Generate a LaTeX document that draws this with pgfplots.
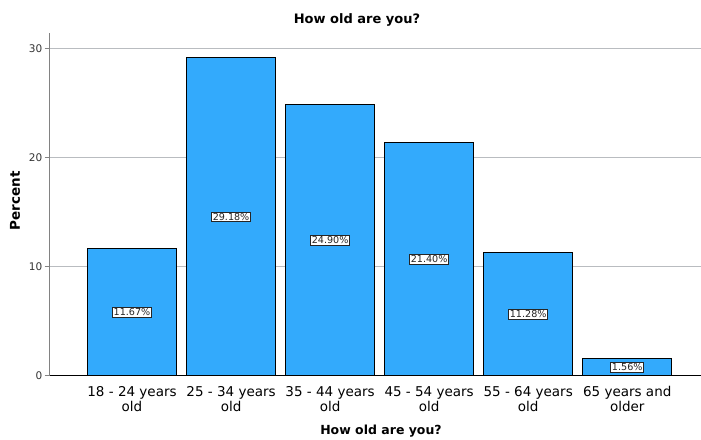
\documentclass[border=0pt]{standalone}
\usepackage{fontspec}
\setmainfont{DejaVu Sans}
\usepackage{pgfplots}
\pgfplotsset{compat=1.18}
\definecolor{barblue}{RGB}{51,170,252}
\definecolor{gridgray}{RGB}{185,188,192}
\definecolor{axgray}{RGB}{130,130,130}
\newcommand\hs{\rule{0pt}{11pt}}
\begin{document}
\begin{tikzpicture}[x=1pt,y=1pt]
\useasboundingbox (0,0) rectangle (701,439);
\begin{axis}[
  at={(50,58)}, anchor=south west,
  scale only axis, width=651pt, height=343pt,
  xmin=-0.833, xmax=5.74, ymin=0, ymax=31.47,
  axis x line*=bottom, axis y line*=left,
  x axis line style={black, line width=0.8pt},
  y axis line style={axgray, line width=1pt},
  ytick={0,10,20,30},
  ytick style={axgray, line width=0.8pt},
  ymajorgrids, major grid style={gridgray, line width=0.9pt},
  tick align=outside, major tick length=5pt,
  xtick={0,1,2,3,4,5}, xtick style={draw=none},
  xticklabels={\hs 18 - 24 years\\old, \hs 25 - 34 years\\old, \hs 35 - 44 years\\old, \hs 45 - 54 years\\old, \hs 55 - 64 years\\old, \hs 65 years and\\older},
  xticklabel style={align=center, anchor=north, font=\fontsize{13.5}{12}\selectfont, text=black, inner sep=0pt, yshift=-5pt},
  yticklabel style={font=\fontsize{10.5}{10}\selectfont, text=black!80, inner sep=2pt},
  /pgf/number format/assume math mode=true,
  clip=false,
]
\addplot[ybar, bar width=89pt, fill=barblue, draw=black, line width=0.8pt,
  visualization depends on={y \as \rawy},
  nodes near coords={\pgfmathprintnumber[fixed,fixed zerofill,precision=2]{\pgfplotspointmeta}\%},
  every node near coord/.append style={anchor=center, shift={(axis direction cs:0,-\rawy/2)},
    fill=white, draw=black!85, line width=0.6pt, inner sep=1.3pt,
    font=\fontsize{9.6}{10}\selectfont, text=black!85},
] coordinates {(0,11.67) (1,29.18) (2,24.90) (3,21.40) (4,11.28) (5,1.56)};
\end{axis}
\node[font=\fontsize{13}{13}\selectfont\bfseries] at (357,419) {How old are you?};
\node[font=\fontsize{12.5}{13}\selectfont\bfseries] at (381,8) {How old are you?};
\node[font=\fontsize{13.5}{14}\selectfont\bfseries, rotate=90] at (15,238) {Percent};
\end{tikzpicture}
\end{document}
